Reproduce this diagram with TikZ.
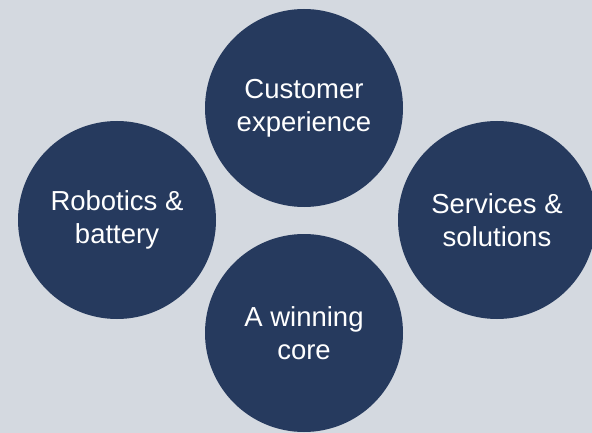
\documentclass[tikz,border=0pt]{standalone}
\usepackage{fontspec}
\setmainfont{Liberation Sans}
\definecolor{navy}{RGB}{38,58,94}
\definecolor{paper}{RGB}{212,217,224}

\begin{document}
\begin{tikzpicture}[x=1pt,y=-1pt]
  \tikzstyle{bubble}=[circle, fill=navy, minimum size=198pt, inner sep=0pt, align=center, text=white, font=\fontsize{27.5}{33}\selectfont]
  \fill[paper] (0,0) rectangle (592,433);
  \useasboundingbox (0,0) rectangle (592,433);
  \node[bubble] (customer) at (304,108) {Customer\\experience};
  \node[bubble] (robotics) at (117,220) {Robotics \&\\battery};
  \node[bubble] (services) at (497,220) {Services \&\\solutions};
  \node[bubble] (core) at (304,333) {A winning\\core};
\end{tikzpicture}
\end{document}
